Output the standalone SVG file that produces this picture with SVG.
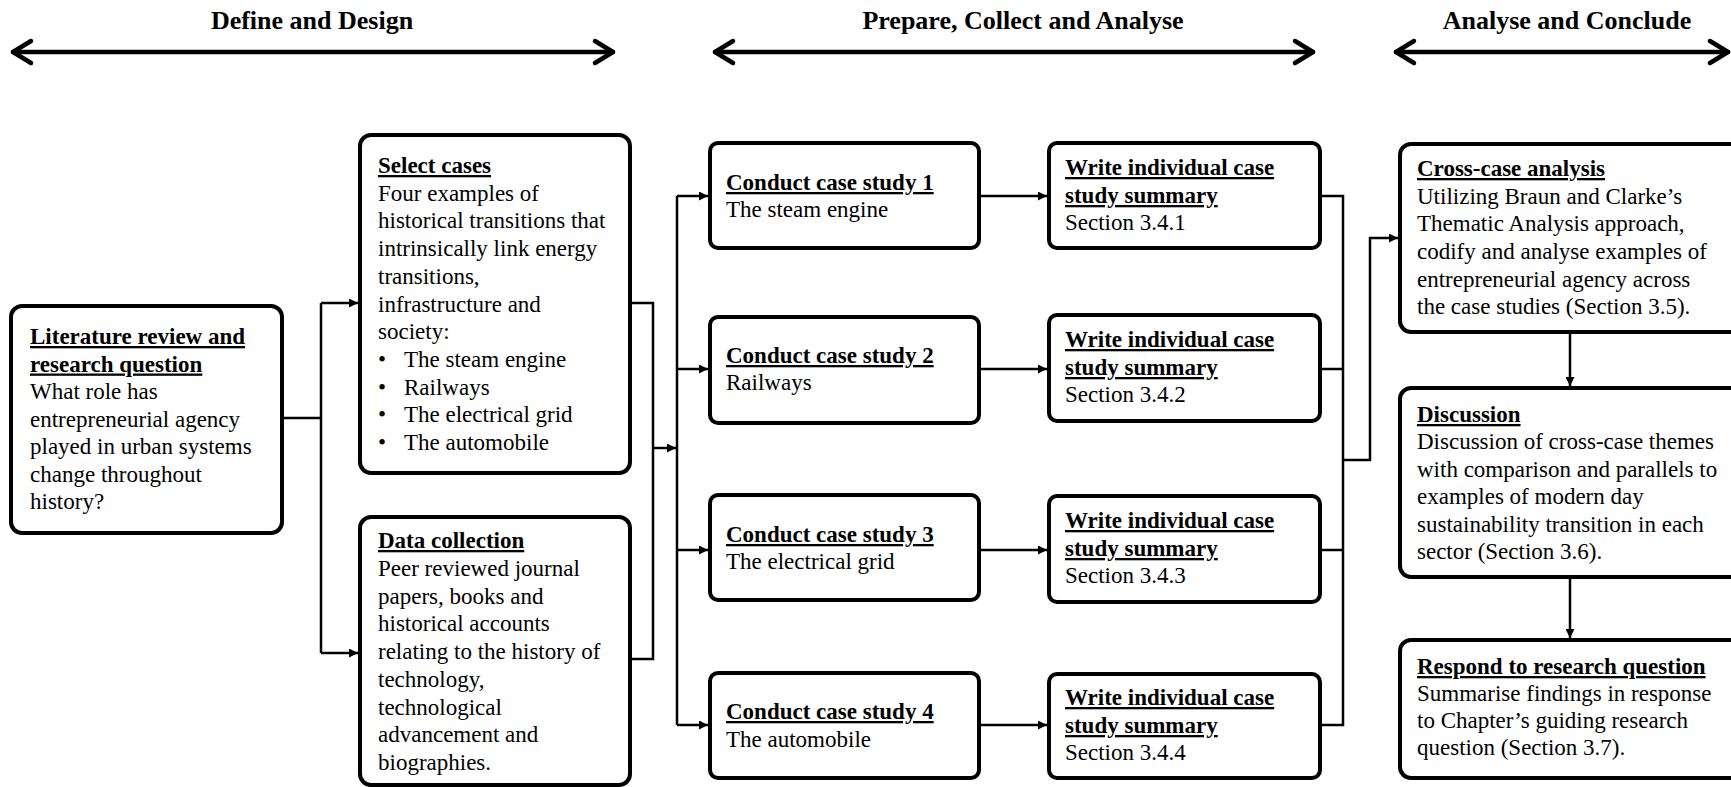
<svg xmlns="http://www.w3.org/2000/svg" width="1731" height="787" viewBox="0 0 1731 787">
  <defs>
    <style>
      .box { fill: #ffffff; stroke: #000000; stroke-width: 4; }
      .conn { fill: none; stroke: #000000; stroke-width: 2.5; }
      .phase { fill: none; stroke: #000000; stroke-width: 4.5; stroke-linecap: round; stroke-linejoin: round; }
      text { font-family: "Liberation Serif", "Times New Roman", serif; fill: #000000; }
      .hdr { font-size: 26px; font-weight: bold; text-anchor: middle; }
      .t { font-size: 23px; }
      .b { font-size: 23px; font-weight: bold; text-decoration: underline; }
    </style>
    <marker id="tri" viewBox="0 0 10 10" refX="10" refY="5" markerWidth="9" markerHeight="9" markerUnits="userSpaceOnUse" orient="auto">
      <path d="M0,0 L10,5 L0,10 Z" fill="#000000"/>
    </marker>
  </defs>

  <!-- phase headings with double-headed arrows -->
  <g id="phases">
    <text class="hdr" x="312" y="29">Define and Design</text>
    <line class="phase" x1="13" y1="52" x2="613" y2="52"/>
    <polyline class="phase" points="31,41 13,52 31,63"/>
    <polyline class="phase" points="595,41 613,52 595,63"/>

    <text class="hdr" x="1023" y="29">Prepare, Collect and Analyse</text>
    <line class="phase" x1="715" y1="52" x2="1313" y2="52"/>
    <polyline class="phase" points="733,41 715,52 733,63"/>
    <polyline class="phase" points="1295,41 1313,52 1295,63"/>

    <text class="hdr" x="1567" y="29">Analyse and Conclude</text>
    <line class="phase" x1="1396" y1="52" x2="1728" y2="52"/>
    <polyline class="phase" points="1414,41 1396,52 1414,63"/>
    <polyline class="phase" points="1710,41 1728,52 1710,63"/>
  </g>

  <!-- connectors -->
  <g id="connectors">
    <polyline class="conn" points="282,418 321,418"/>
    <polyline class="conn" points="321,303 321,653"/>
    <line class="conn" x1="321" y1="303" x2="358" y2="303" marker-end="url(#tri)"/>
    <line class="conn" x1="321" y1="653" x2="358" y2="653" marker-end="url(#tri)"/>

    <polyline class="conn" points="632,303 653,303 653,659 632,659"/>
    <line class="conn" x1="653" y1="448" x2="676" y2="448" marker-end="url(#tri)"/>

    <polyline class="conn" points="677,196 677,725"/>
    <line class="conn" x1="677" y1="196" x2="708" y2="196" marker-end="url(#tri)"/>
    <line class="conn" x1="677" y1="369" x2="708" y2="369" marker-end="url(#tri)"/>
    <line class="conn" x1="677" y1="550" x2="708" y2="550" marker-end="url(#tri)"/>
    <line class="conn" x1="677" y1="725" x2="708" y2="725" marker-end="url(#tri)"/>

    <line class="conn" x1="981" y1="196" x2="1047" y2="196" marker-end="url(#tri)"/>
    <line class="conn" x1="981" y1="369" x2="1047" y2="369" marker-end="url(#tri)"/>
    <line class="conn" x1="981" y1="550" x2="1047" y2="550" marker-end="url(#tri)"/>
    <line class="conn" x1="981" y1="725" x2="1047" y2="725" marker-end="url(#tri)"/>

    <polyline class="conn" points="1322,196 1343,196 1343,725 1322,725"/>
    <line class="conn" x1="1322" y1="369" x2="1343" y2="369"/>
    <line class="conn" x1="1322" y1="550" x2="1343" y2="550"/>
    <polyline class="conn" points="1343,460 1370,460 1370,238 1398,238" marker-end="url(#tri)"/>

    <line class="conn" x1="1570" y1="334" x2="1570" y2="386" marker-end="url(#tri)"/>
    <line class="conn" x1="1570" y1="579" x2="1570" y2="638" marker-end="url(#tri)"/>
  </g>

  <!-- Define and Design -->
  <g id="literature">
    <rect class="box" x="11" y="306" width="271" height="227" rx="11"/>
    <text class="b" x="30" y="344">Literature review and</text>
    <text class="b" x="30" y="371.5">research question</text>
    <text class="t" x="30" y="399">What role has</text>
    <text class="t" x="30" y="426.5">entrepreneurial agency</text>
    <text class="t" x="30" y="454">played in urban systems</text>
    <text class="t" x="30" y="481.5">change throughout</text>
    <text class="t" x="30" y="509">history?</text>
  </g>

  <g id="select-cases">
    <rect class="box" x="360" y="135" width="270" height="338" rx="11"/>
    <text class="b" x="378" y="173">Select cases</text>
    <text class="t" x="378" y="200.7">Four examples of</text>
    <text class="t" x="378" y="228.4">historical transitions that</text>
    <text class="t" x="378" y="256.1">intrinsically link energy</text>
    <text class="t" x="378" y="283.8">transitions,</text>
    <text class="t" x="378" y="311.5">infrastructure and</text>
    <text class="t" x="378" y="339.2">society:</text>
    <text class="t" x="378" y="366.9">•</text><text class="t" x="404" y="366.9">The steam engine</text>
    <text class="t" x="378" y="394.6">•</text><text class="t" x="404" y="394.6">Railways</text>
    <text class="t" x="378" y="422.3">•</text><text class="t" x="404" y="422.3">The electrical grid</text>
    <text class="t" x="378" y="450">•</text><text class="t" x="404" y="450">The automobile</text>
  </g>

  <g id="data-collection">
    <rect class="box" x="360" y="517" width="270" height="268" rx="11"/>
    <text class="b" x="378" y="548">Data collection</text>
    <text class="t" x="378" y="575.75">Peer reviewed journal</text>
    <text class="t" x="378" y="603.5">papers, books and</text>
    <text class="t" x="378" y="631.25">historical accounts</text>
    <text class="t" x="378" y="659">relating to the history of</text>
    <text class="t" x="378" y="686.75">technology,</text>
    <text class="t" x="378" y="714.5">technological</text>
    <text class="t" x="378" y="742.25">advancement and</text>
    <text class="t" x="378" y="770">biographies.</text>
  </g>

  <!-- Prepare, Collect and Analyse -->
  <g id="case-study-1">
    <rect class="box" x="710" y="143" width="269" height="105" rx="8"/>
    <text class="b" x="726" y="190">Conduct case study 1</text>
    <text class="t" x="726" y="217">The steam engine</text>
  </g>
  <g id="case-study-2">
    <rect class="box" x="710" y="317" width="269" height="106" rx="8"/>
    <text class="b" x="726" y="363">Conduct case study 2</text>
    <text class="t" x="726" y="390">Railways</text>
  </g>
  <g id="case-study-3">
    <rect class="box" x="710" y="495" width="269" height="105" rx="8"/>
    <text class="b" x="726" y="542">Conduct case study 3</text>
    <text class="t" x="726" y="569">The electrical grid</text>
  </g>
  <g id="case-study-4">
    <rect class="box" x="710" y="673" width="269" height="105" rx="8"/>
    <text class="b" x="726" y="719">Conduct case study 4</text>
    <text class="t" x="726" y="747">The automobile</text>
  </g>

  <g id="summary-1">
    <rect class="box" x="1049" y="143" width="271" height="105" rx="8"/>
    <text class="b" x="1065" y="175">Write individual case</text>
    <text class="b" x="1065" y="203">study summary</text>
    <text class="t" x="1065" y="230">Section 3.4.1</text>
  </g>
  <g id="summary-2">
    <rect class="box" x="1049" y="315" width="271" height="106" rx="8"/>
    <text class="b" x="1065" y="347">Write individual case</text>
    <text class="b" x="1065" y="375">study summary</text>
    <text class="t" x="1065" y="402">Section 3.4.2</text>
  </g>
  <g id="summary-3">
    <rect class="box" x="1049" y="496" width="271" height="106" rx="8"/>
    <text class="b" x="1065" y="528">Write individual case</text>
    <text class="b" x="1065" y="556">study summary</text>
    <text class="t" x="1065" y="583">Section 3.4.3</text>
  </g>
  <g id="summary-4">
    <rect class="box" x="1049" y="674" width="271" height="104" rx="8"/>
    <text class="b" x="1065" y="705">Write individual case</text>
    <text class="b" x="1065" y="733">study summary</text>
    <text class="t" x="1065" y="760">Section 3.4.4</text>
  </g>

  <!-- Analyse and Conclude -->
  <g id="cross-case">
    <rect class="box" x="1400" y="144" width="360" height="188" rx="11"/>
    <text class="b" x="1417" y="176">Cross-case analysis</text>
    <text class="t" x="1417" y="203.7">Utilizing Braun and Clarke’s</text>
    <text class="t" x="1417" y="231.4">Thematic Analysis approach,</text>
    <text class="t" x="1417" y="259">codify and analyse examples of</text>
    <text class="t" x="1417" y="286.7">entrepreneurial agency across</text>
    <text class="t" x="1417" y="314.4">the case studies (Section 3.5).</text>
  </g>
  <g id="discussion">
    <rect class="box" x="1400" y="388" width="360" height="189" rx="11"/>
    <text class="b" x="1417" y="422">Discussion</text>
    <text class="t" x="1417" y="449.4">Discussion of cross-case themes</text>
    <text class="t" x="1417" y="476.8">with comparison and parallels to</text>
    <text class="t" x="1417" y="504">examples of modern day</text>
    <text class="t" x="1417" y="531.5">sustainability transition in each</text>
    <text class="t" x="1417" y="559">sector (Section 3.6).</text>
  </g>
  <g id="respond">
    <rect class="box" x="1400" y="640" width="360" height="138" rx="11"/>
    <text class="b" x="1417" y="674">Respond to research question</text>
    <text class="t" x="1417" y="701">Summarise findings in response</text>
    <text class="t" x="1417" y="728">to Chapter’s guiding research</text>
    <text class="t" x="1417" y="755">question (Section 3.7).</text>
  </g>
</svg>
